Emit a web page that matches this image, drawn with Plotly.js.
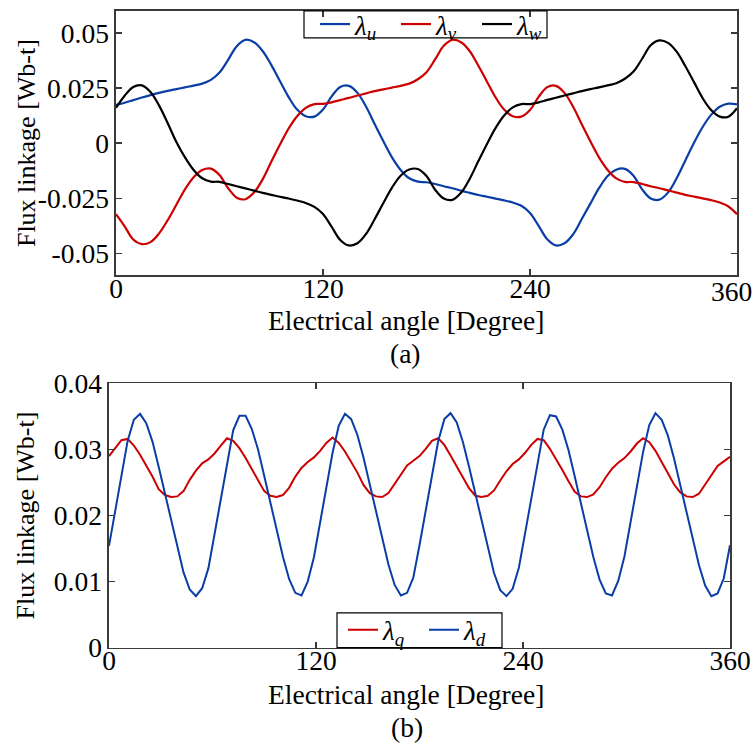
<!DOCTYPE html>
<html>
<head>
<meta charset="utf-8">
<script src="https://cdn.plot.ly/plotly-3.0.1.min.js"></script>
<style>
  html, body { margin: 0; padding: 0; background: #fff; }
  #chart { width: 755px; height: 746px; }
</style>
</head>
<body>
<div id="chart"></div>
<script>
// (a) three-phase flux linkages, sampled every 5 electrical degrees
const phaseStep = 5;
const lambdaU = [
  0.0173, 0.0183, 0.0195, 0.0207, 0.0218, 0.0228, 0.0237, 0.0245, 0.0253, 0.0261,
  0.0270, 0.0287, 0.0320, 0.0378, 0.0440, 0.0469, 0.0458, 0.0418, 0.0355, 0.0282,
  0.0210, 0.0152, 0.0122, 0.0120, 0.0152, 0.0212, 0.0255, 0.0260, 0.0228, 0.0165,
  0.0085, 0.0008, -0.0065, -0.0122, -0.0160, -0.0175, -0.0178, -0.0186, -0.0196, -0.0205,
  -0.0216, -0.0226, -0.0236, -0.0244, -0.0252, -0.0260, -0.0270, -0.0285, -0.0318, -0.0376,
  -0.0437, -0.0465, -0.0455, -0.0414, -0.0345, -0.0275, -0.0205, -0.0150, -0.0121, -0.0117,
  -0.0148, -0.0210, -0.0252, -0.0257, -0.0225, -0.0160, -0.0080, 0.0000, 0.0072, 0.0128,
  0.0165, 0.0179, 0.0176
];
const lambdaV = [
  -0.0323, -0.0378, -0.0438, -0.0459, -0.0450, -0.0410, -0.0350, -0.0280, -0.0210, -0.0155,
  -0.0122, -0.0116, -0.0145, -0.0205, -0.0248, -0.0255, -0.0225, -0.0165, -0.0085, -0.0008,
  0.0065, 0.0122, 0.0160, 0.0177, 0.0178, 0.0185, 0.0195, 0.0205, 0.0216, 0.0226,
  0.0236, 0.0244, 0.0252, 0.0260, 0.0270, 0.0290, 0.0322, 0.0380, 0.0442, 0.0469,
  0.0458, 0.0418, 0.0352, 0.0280, 0.0208, 0.0152, 0.0122, 0.0120, 0.0150, 0.0210,
  0.0254, 0.0260, 0.0228, 0.0165, 0.0085, 0.0008, -0.0065, -0.0122, -0.0160, -0.0176,
  -0.0177, -0.0186, -0.0196, -0.0205, -0.0215, -0.0225, -0.0235, -0.0243, -0.0251, -0.0259,
  -0.0270, -0.0288, -0.0323
];
const lambdaW = [
  0.0160, 0.0215, 0.0255, 0.0262, 0.0232, 0.0170, 0.0090, 0.0005, -0.0065, -0.0122,
  -0.0160, -0.0175, -0.0176, -0.0186, -0.0196, -0.0206, -0.0216, -0.0226, -0.0235, -0.0244,
  -0.0252, -0.0261, -0.0272, -0.0290, -0.0322, -0.0380, -0.0440, -0.0465, -0.0455, -0.0412,
  -0.0345, -0.0272, -0.0202, -0.0148, -0.0120, -0.0118, -0.0150, -0.0212, -0.0252, -0.0258,
  -0.0226, -0.0163, -0.0083, -0.0005, 0.0068, 0.0125, 0.0162, 0.0177, 0.0177, 0.0185,
  0.0196, 0.0206, 0.0216, 0.0226, 0.0236, 0.0245, 0.0253, 0.0262, 0.0272, 0.0292,
  0.0325, 0.0383, 0.0444, 0.0466, 0.0455, 0.0415, 0.0350, 0.0278, 0.0205, 0.0150,
  0.0120, 0.0120, 0.0158
];

// (b) d/q-axis flux linkages, sampled every 3.6 electrical degrees
const dqStep = 3.6;
const lambdaQ = [
  0.0290, 0.0302, 0.0314, 0.0316, 0.0306, 0.0292, 0.0276, 0.0259, 0.0240, 0.0231,
  0.0228, 0.0229, 0.0237, 0.0254, 0.0268, 0.0279, 0.0285, 0.0294, 0.0306, 0.0317,
  0.0313, 0.0302, 0.0287, 0.0270, 0.0253, 0.0237, 0.0230, 0.0228, 0.0231, 0.0242,
  0.0259, 0.0272, 0.0281, 0.0288, 0.0298, 0.0310, 0.0318, 0.0310, 0.0297, 0.0281,
  0.0265, 0.0246, 0.0234, 0.0229, 0.0228, 0.0234, 0.0248, 0.0264, 0.0276, 0.0283,
  0.0290, 0.0301, 0.0313, 0.0317, 0.0307, 0.0291, 0.0275, 0.0258, 0.0241, 0.0230,
  0.0228, 0.0230, 0.0238, 0.0253, 0.0267, 0.0278, 0.0285, 0.0295, 0.0307, 0.0316,
  0.0314, 0.0301, 0.0286, 0.0269, 0.0252, 0.0236, 0.0229, 0.0228, 0.0232, 0.0243,
  0.0258, 0.0271, 0.0280, 0.0287, 0.0297, 0.0309, 0.0317, 0.0311, 0.0298, 0.0282,
  0.0264, 0.0247, 0.0235, 0.0229, 0.0228, 0.0233, 0.0247, 0.0263, 0.0275, 0.0282,
  0.0289
];
const lambdaD = [
  0.0154, 0.0208, 0.0262, 0.0313, 0.0345, 0.0354, 0.0340, 0.0312, 0.0274, 0.0233,
  0.0191, 0.0151, 0.0114, 0.0088, 0.0078, 0.0090, 0.0120, 0.0172, 0.0226, 0.0279,
  0.0329, 0.0351, 0.0351, 0.0331, 0.0300, 0.0260, 0.0219, 0.0177, 0.0138, 0.0104,
  0.0083, 0.0079, 0.0100, 0.0137, 0.0190, 0.0244, 0.0295, 0.0336, 0.0354, 0.0346,
  0.0322, 0.0287, 0.0247, 0.0205, 0.0164, 0.0126, 0.0095, 0.0079, 0.0083, 0.0106,
  0.0155, 0.0209, 0.0263, 0.0312, 0.0346, 0.0355, 0.0341, 0.0311, 0.0273, 0.0232,
  0.0190, 0.0150, 0.0113, 0.0087, 0.0078, 0.0089, 0.0121, 0.0173, 0.0227, 0.0280,
  0.0330, 0.0352, 0.0350, 0.0330, 0.0299, 0.0259, 0.0218, 0.0176, 0.0137, 0.0103,
  0.0082, 0.0079, 0.0101, 0.0138, 0.0191, 0.0245, 0.0296, 0.0337, 0.0355, 0.0345,
  0.0321, 0.0286, 0.0246, 0.0204, 0.0163, 0.0125, 0.0094, 0.0078, 0.0082, 0.0105,
  0.0155
];

const xTicks = [0, 120, 240, 360];
// the top panel's last label is written as an annotation so it can sit a little
// left of its tick and stay on the page
const xTextA = ['0', '120', '240', ''];
const xTextB = ['0', '120', '240', '360'];
const xLastLabel = '360';
const yTicksA = [-0.05, -0.025, 0, 0.025, 0.05];
const yTextA = ['-0.05', '-0.025', '0', '0.025', '0.05'];
const yTicksB = [0, 0.01, 0.02, 0.03, 0.04];
const yTextB = ['0', '0.01', '0.02', '0.03', '0.04'];

const angles = (n, step) => Array.from({length: n}, (_, i) => +(i * step).toFixed(2));
const xA = angles(lambdaU.length, phaseStep);
const xB = angles(lambdaD.length, dqStep);

const BLUE = '#0a3ea6', RED = '#cc0000', BLACK = '#000000';
const FONT = 'Liberation Serif, Times New Roman, Tinos, DejaVu Serif, serif';
const W = 755, H = 746;
const px = v => v / W, py = v => 1 - v / H;

const traces = [
  {x: xA, y: lambdaU, name: '<i>λ<sub>u</sub></i>', xaxis: 'x', yaxis: 'y', legend: 'legend',
   mode: 'lines', line: {color: BLUE, width: 2.2, shape: 'spline'}},
  {x: xA, y: lambdaV, name: '<i>λ<sub>v</sub></i>', xaxis: 'x', yaxis: 'y', legend: 'legend',
   mode: 'lines', line: {color: RED, width: 2.2, shape: 'spline'}},
  {x: xA, y: lambdaW, name: '<i>λ<sub>w</sub></i>', xaxis: 'x', yaxis: 'y', legend: 'legend',
   mode: 'lines', line: {color: BLACK, width: 2.2, shape: 'spline'}},
  {x: xB, y: lambdaQ, name: '<i>λ<sub>q</sub></i>', xaxis: 'x2', yaxis: 'y2', legend: 'legend2',
   mode: 'lines', line: {color: RED, width: 2}},
  {x: xB, y: lambdaD, name: '<i>λ<sub>d</sub></i>', xaxis: 'x2', yaxis: 'y2', legend: 'legend2',
   mode: 'lines', line: {color: BLUE, width: 2}}
];

const TICK_SIZE = 27.5;
const axisCommon = {
  showgrid: false, zeroline: false,
  showline: true, linecolor: '#3a3a3a', linewidth: 1.6, mirror: 'ticks',
  ticks: 'inside', ticklen: 6, tickwidth: 1.2, tickcolor: '#3a3a3a',
  tickfont: {family: FONT, size: TICK_SIZE, color: '#000'},
  ticklabeloverflow: 'allow',
  fixedrange: true
};
const xAxisCommon = Object.assign({}, axisCommon, {ticklabelstandoff: -12});

// legend entries sit inside framed boxes drawn as shapes
const legendCommon = {
  orientation: 'h', xanchor: 'left', yanchor: 'middle',
  bgcolor: 'rgba(0,0,0,0)', borderwidth: 0,
  entrywidth: 36, entrywidthmode: 'pixels',
  font: {family: FONT, size: 27, color: '#000'}
};

const box = (x0, x1, y0, y1) => ({type: 'rect', xref: 'paper', yref: 'paper',
  x0: px(x0), x1: px(x1), y0: py(y1), y1: py(y0), layer: 'above',
  fillcolor: 'rgba(0,0,0,0)', line: {color: '#000', width: 1.2}});

const layout = {
  width: W, height: H,
  margin: {l: 0, r: 0, t: 0, b: 0},
  font: {family: FONT},
  paper_bgcolor: '#fff', plot_bgcolor: '#fff',
  showlegend: true,
  xaxis: Object.assign({}, xAxisCommon, {domain: [px(116), px(737)], range: [0, 360],
    tickvals: xTicks, ticktext: xTextA, anchor: 'y'}),
  yaxis: Object.assign({}, axisCommon, {domain: [py(272), py(6)], range: [-0.06, 0.06],
    tickvals: yTicksA, ticktext: yTextA, anchor: 'x'}),
  xaxis2: Object.assign({}, xAxisCommon, {domain: [px(109), px(730)], range: [0, 360],
    tickvals: xTicks, ticktext: xTextB, anchor: 'y2'}),
  yaxis2: Object.assign({}, axisCommon, {domain: [py(647), py(381)], range: [0, 0.04],
    tickvals: yTicksB, ticktext: yTextB, anchor: 'x2'}),
  legend: Object.assign({}, legendCommon, {x: px(315), y: py(19.5)}),
  legend2: Object.assign({}, legendCommon, {x: px(343), y: py(629.5)}),
  shapes: [box(304, 547, 6, 33), box(337, 502, 612, 647)],
  annotations: [
    {text: xLastLabel, x: px(731), y: py(288), size: TICK_SIZE},
    {text: 'Flux linkage [Wb-t]', x: px(26), y: py(139), textangle: -90, size: 26},
    {text: 'Electrical angle [Degree]', x: px(406), y: py(318)},
    {text: '(a)', x: px(405), y: py(351)},
    {text: 'Flux linkage [Wb-t]', x: px(26), y: py(514), textangle: -90, size: 26},
    {text: 'Electrical angle [Degree]', x: px(406), y: py(694)},
    {text: '(b)', x: px(407), y: py(727)}
  ].map(a => {
    const size = a.size || 27.5;
    delete a.size;
    return Object.assign({xref: 'paper', yref: 'paper', showarrow: false,
      xanchor: 'center', yanchor: 'middle', font: {family: FONT, size: size, color: '#000'}}, a);
  })
};

Plotly.newPlot('chart', traces, layout, {staticPlot: true, displayModeBar: false});
</script>
</body>
</html>
